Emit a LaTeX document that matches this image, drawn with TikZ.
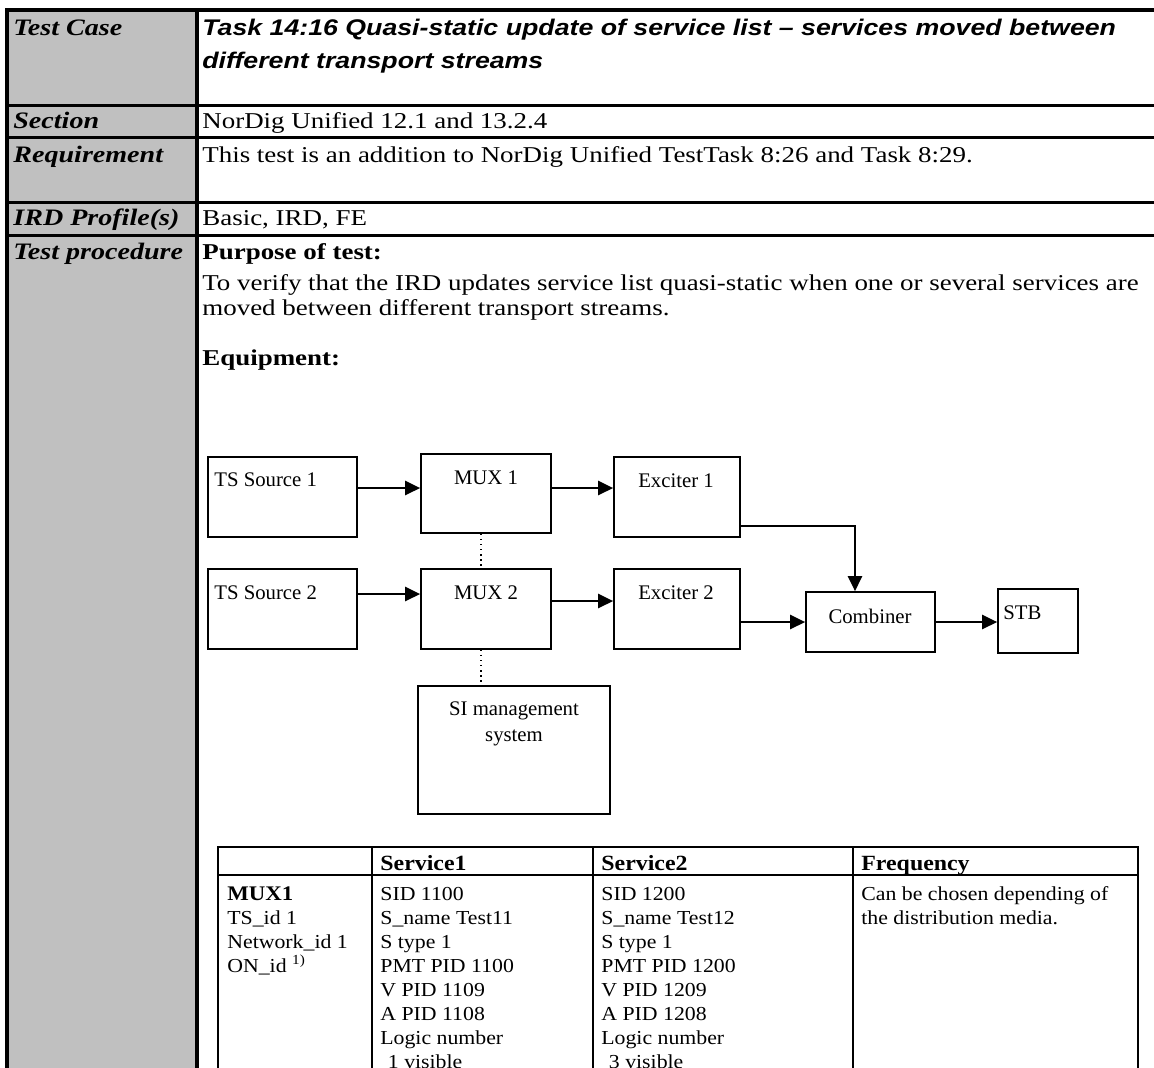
\documentclass[tikz,border=0pt]{standalone}
\usepackage{fontspec}
\setmainfont{Liberation Serif}
\newfontfamily\bodyfont{Liberation Serif}[FakeStretch=1.19]
\newfontfamily\titlefont{Liberation Sans}[FakeStretch=1.18]
\newfontfamily\tabfont{Liberation Serif}[FakeStretch=1.1]
\usepackage{tikz}
\usetikzlibrary{positioning,arrows.meta,calc,fit}
\definecolor{silver}{HTML}{C0C0C0}
\tikzset{
  >=stealth,
  % --- table cells
  cell/.style    = {anchor=base west, inner sep=0pt, font=\bodyfont\fontsize{12}{14}\selectfont},
  rowhead/.style = {cell, font=\bodyfont\fontsize{12.5}{15}\selectfont\bfseries\itshape},
  casetitle/.style = {cell, font=\titlefont\fontsize{12}{14}\selectfont\bfseries\itshape},
  svc/.style     = {cell, font=\tabfont\fontsize{10.5}{12}\selectfont},
  svchead/.style = {cell, font=\tabfont\fontsize{11.5}{13}\selectfont\bfseries},
  rule/.style    = {line width=1.6pt},
  grid/.style    = {line width=1pt},
  % --- equipment
  box/.style     = {draw, line width=0.9pt, inner sep=0pt},
  lbl/.style     = {anchor=base, inner sep=0pt, font=\fontsize{11}{13}\selectfont},
  flow/.style    = {-{Triangle[length=8pt,width=7.5pt]}, line width=1.2pt},
  link/.style    = {dotted, line width=0.7pt},
}
\begin{document}
\begin{tikzpicture}[x=0.53pt,y=-0.53pt]
  \clip (0,0) rectangle (1154,1067);
  % outer table
  \fill[silver] (7,10) rectangle (197,1080);
  \draw[rule] (1170,10) -- (7,10) -- (7,1080);
  \draw[rule] (197,10) -- (197,1080);
  \foreach \y in {105,137,202,235}
    \draw[rule] (7,\y) -- (1170,\y);

  \node[rowhead] (case) at (13,35) {Test Case};
  \node[casetitle] (task1) at (202,35) {Task 14:16 Quasi-static update of service list – services moved between};
  \node[casetitle] (task2) at (202,68) {different transport streams};

  \node[rowhead] (sect) at (13,128) {Section};
  \node[cell] (secttxt) at (202,128) {NorDig Unified 12.1 and 13.2.4};

  \node[rowhead] (req) at (13,162) {Requirement};
  \node[cell] (reqtxt) at (202,162) {This test is an addition to NorDig Unified TestTask 8:26 and Task 8:29.};

  \node[rowhead] (prof) at (13,225) {IRD Profile(s)};
  \node[cell] (proftxt) at (202,225) {Basic, IRD, FE};

  \node[rowhead] (proc) at (13,259) {Test procedure};
  \node[cell, font=\bodyfont\fontsize{12}{14}\selectfont\bfseries] (purp) at (202,259) {Purpose of test:};
  \node[cell] (purp1) at (202,290) {To verify that the IRD updates service list quasi-static when one or several services are};
  \node[cell] (purp2) at (202,315) {moved between different transport streams.};
  \node[cell, font=\bodyfont\fontsize{12}{14}\selectfont\bfseries] (equip) at (202,365) {Equipment:};

  % equipment set-up
  \node[box, fit={(208,457) (357,537)}] (ts1) {};
  \node[box, fit={(421,454) (551,533)}] (mux1) {};
  \node[box, fit={(614,457) (740,537)}] (exc1) {};
  \node[box, fit={(208,569) (357,649)}] (ts2) {};
  \node[box, fit={(421,569) (551,649)}] (mux2) {};
  \node[box, fit={(614,569) (740,649)}] (exc2) {};
  \node[box, fit={(418,686) (610,814)}] (si) {};
  \node[box, fit={(806,592) (935,652)}] (comb) {};
  \node[box, fit={(998,589) (1078,653)}] (stb) {};

  \node[lbl, anchor=base west] (ts1txt) at (214,486) {TS Source 1};
  \node[lbl] (mux1txt) at (486,484) {MUX 1};
  \node[lbl] (exc1txt) at (676,487) {Exciter 1};
  \node[lbl, anchor=base west] (ts2txt) at (214,599) {TS Source 2};
  \node[lbl] (mux2txt) at (486,599) {MUX 2};
  \node[lbl] (exc2txt) at (676,599) {Exciter 2};
  \node[lbl] (sitxt1) at (514,715) {SI management};
  \node[lbl] (sitxt2) at (514,741) {system};
  \node[lbl] (combtxt) at (870,623) {Combiner};
  \node[lbl, anchor=base west] (stbtxt) at (1003,619) {STB};

  \draw[flow] (ts1.east |- 0,488) -- (mux1.west |- 0,488);
  \draw[flow] (mux1.east |- 0,488) -- (exc1.west |- 0,488);
  \draw[flow] (ts2.east |- 0,594) -- (mux2.west |- 0,594);
  \draw[flow] (mux2.east |- 0,601) -- (exc2.west |- 0,601);
  \draw[flow] (exc1.east |- 0,526) -| (855,0 |- comb.north);
  \draw[flow] (exc2.east |- 0,622) -- (comb.west |- 0,622);
  \draw[flow] (comb.east |- 0,622) -- (stb.west |- 0,622);
  \draw[link] (mux1.south -| 481,0) -- (mux2.north -| 481,0);
  \draw[link] (mux2.south -| 481,0) -- (si.north -| 481,0);

  % service table
  \draw[grid] (218,1080) -- (218,847) -- (1138,847) -- (1138,1080);
  \draw[grid] (218,875) -- (1138,875);
  \foreach \x in {372,593,853}
    \draw[grid] (\x,847) -- (\x,1080);

  \node[svchead] (hs1) at (380,870) {Service1};
  \node[svchead] (hs2) at (601,870) {Service2};
  \node[svchead] (hfreq) at (861,870) {Frequency};

  \node[svc, font=\tabfont\fontsize{11}{13}\selectfont\bfseries] (m0) at (227,900) {MUX1};
  \foreach \t [count=\i] in {{TS\_id 1},{Network\_id 1},{ON\_id \textsuperscript{1)}}}
    \node[svc] (m\i) at (227,900+24*\i) {\t};

  \foreach \t [count=\i from 0] in {SID 1100,S\_name Test11,S type 1,PMT PID 1100,V PID 1109,A PID 1108,Logic number,\hspace*{4pt}1 visible}
    \node[svc] (sa\i) at (380,900+24*\i) {\t};
  \foreach \t [count=\i from 0] in {SID 1200,S\_name Test12,S type 1,PMT PID 1200,V PID 1209,A PID 1208,Logic number,\hspace*{4pt}3 visible}
    \node[svc] (sb\i) at (601,900+24*\i) {\t};

  \node[svc] (fr0) at (861,900) {Can be chosen depending of};
  \node[svc] (fr1) at (861,924) {the distribution media.};
\end{tikzpicture}
\end{document}
